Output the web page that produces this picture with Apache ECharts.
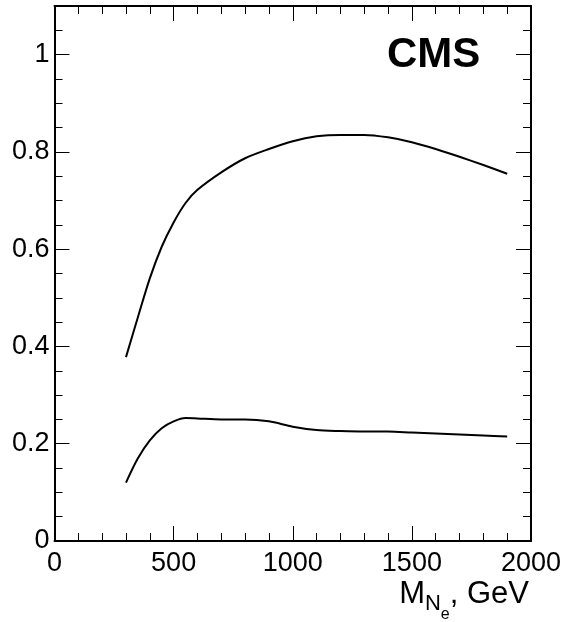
<!DOCTYPE html>
<html><head><meta charset="utf-8">
<script src="https://cdn.jsdelivr.net/npm/echarts@6/dist/echarts.min.js"></script>
<style>html,body{margin:0;padding:0;background:#fff}#c{width:566px;height:622px}</style>
</head><body><div id="c"></div>
<script>
const massGeV  = [300, 350, 400, 450, 500, 550, 600, 700, 800, 900, 1000, 1100, 1200, 1300, 1400, 1500, 1600, 1700, 1800, 1900];
const upperEff = [0.378, 0.460, 0.540, 0.605, 0.655, 0.695, 0.722, 0.758, 0.787, 0.806, 0.822, 0.832, 0.835, 0.835, 0.830, 0.820, 0.806, 0.790, 0.773, 0.755];
const lowerEff = [0.120, 0.170, 0.207, 0.232, 0.246, 0.253, 0.252, 0.250, 0.250, 0.246, 0.235, 0.228, 0.226, 0.225, 0.225, 0.223, 0.221, 0.219, 0.217, 0.215];
const xTickLabels = ['0', '500', '1000', '1500', '2000'];
const yTickLabels = ['0', '0.2', '0.4', '0.6', '0.8', '1'];

const FONT = 'Liberation Sans';
function fmtX(v){ const i = Math.round(v/500); return Math.abs(v - i*500) < 1e-6 ? (xTickLabels[i] ?? '') : ''; }
function fmtY(v){ const i = Math.round(v/0.2); return Math.abs(v - i*0.2) < 1e-6 ? (yTickLabels[i] ?? '') : ''; }

function xAx(pos, interval, len, major){
  return {
    type:'value', min:0, max:2000, interval:interval, position:pos,
    axisLine:{show:major, onZero:false, lineStyle:{color:'#000', width:2}},
    axisTick:{show:true, inside:true, length:len, lineStyle:{color:'#000', width:1}},
    axisLabel:{show: major && pos==='bottom', formatter:fmtX, fontSize:27, color:'#000', fontFamily:FONT, margin:9, showMaxLabel:true, showMinLabel:true},
    splitLine:{show:false}
  };
}
function yAx(pos, interval, len, major){
  return {
    type:'value', min:0, max:1.1, interval:interval, position:pos,
    axisLine:{show:major, onZero:false, lineStyle:{color:'#000', width:2}},
    axisTick:{show:true, inside:true, length:len, lineStyle:{color:'#000', width:1}},
    axisLabel:{show: major && pos==='left', formatter:fmtY, fontSize:27, color:'#000', fontFamily:FONT, margin:5, showMaxLabel:false, showMinLabel:true},
    splitLine:{show:false}
  };
}

const chart = echarts.init(document.getElementById('c'), null, {renderer:'canvas'});
chart.setOption({
  animation:false,
  backgroundColor:'#fff',
  grid:{left:54.5, right:35, top:6, bottom:81, containLabel:false},
  title:[
    {text:'CMS', left:387, top:34, padding:0,
     textStyle:{fontSize:42, fontWeight:'bold', fontFamily:FONT, color:'#000'}},
    {text:'{m|M}{n|N}{e|e}{m|, GeV}', right:37, top:592, padding:0,
     textStyle:{fontFamily:FONT, color:'#000', fontWeight:'normal',
       rich:{
         m:{fontSize:31, lineHeight:31, fontFamily:FONT, fontWeight:'normal', color:'#000', verticalAlign:'bottom', padding:[0,0,13,0]},
         n:{fontSize:22, lineHeight:22, fontFamily:FONT, fontWeight:'normal', color:'#000', verticalAlign:'bottom', padding:[0,0,8,0]},
         e:{fontSize:16, lineHeight:16, fontFamily:FONT, fontWeight:'normal', color:'#000', verticalAlign:'bottom', padding:[0,0,0,0]}
       }}}
  ],
  xAxis:[ xAx('bottom',500,15,true), xAx('bottom',100,8,false), xAx('top',500,15,true), xAx('top',100,8,false) ],
  yAxis:[ yAx('left',0.2,15,true), yAx('left',0.05,8,false), yAx('right',0.2,15,true), yAx('right',0.05,8,false) ],
  series:[
    {type:'line', xAxisIndex:0, yAxisIndex:0, showSymbol:false, smooth:0.3,
     lineStyle:{color:'#000', width:2}, data: massGeV.map((m,i)=>[m, upperEff[i]])},
    {type:'line', xAxisIndex:0, yAxisIndex:0, showSymbol:false, smooth:0.3,
     lineStyle:{color:'#000', width:2}, data: massGeV.map((m,i)=>[m, lowerEff[i]])}
  ]
});
</script></body></html>
